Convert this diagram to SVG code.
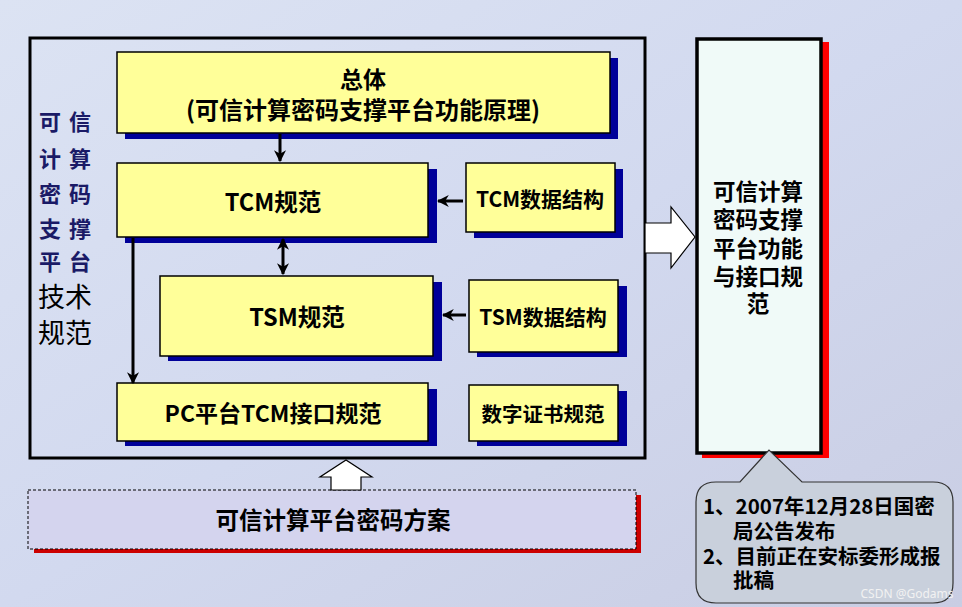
<svg xmlns="http://www.w3.org/2000/svg" width="962" height="607" viewBox="0 0 962 607">
<defs>
<linearGradient id="bg" x1="0" y1="0" x2="1" y2="1">
<stop offset="0" stop-color="#dce3f3"/>
<stop offset="0.5" stop-color="#d2d9ef"/>
<stop offset="1" stop-color="#c9cde3"/>
</linearGradient>
<marker id="ah" viewBox="0 0 10 10" refX="9" refY="5" markerWidth="4" markerHeight="4" orient="auto-start-reverse" markerUnits="strokeWidth">
<path d="M0,0 L10,5 L0,10 L3,5 Z" fill="#000"/>
</marker>
<style>
.t{font-family:"Noto Sans CJK SC","Noto Sans",sans-serif;font-weight:bold;fill:#000;text-anchor:middle;dominant-baseline:central}
.yb{fill:#ffff99;stroke:#000;stroke-width:1.5}
.sh{fill:#000099}
.ln{stroke:#000;stroke-width:3;fill:none}
.vt{font-family:"Noto Sans CJK SC",sans-serif;font-weight:bold;fill:#1a1a66;font-size:22px;text-anchor:middle;dominant-baseline:central}
.vt2{font-family:"Noto Sans CJK SC",sans-serif;font-weight:normal;fill:#000;font-size:27px;text-anchor:middle;dominant-baseline:central}
.hol{fill:#fff;stroke:#000;stroke-width:1.2}
</style>
</defs>
<rect x="0" y="0" width="962" height="607" fill="url(#bg)"/>

<g id="outer">
<rect x="30" y="38" width="615" height="420" fill="none" stroke="#000" stroke-width="3"/>
</g>

<g id="sidetitle">
<text class="vt" x="50" y="120">可</text><text class="vt" x="80" y="120">信</text>
<text class="vt" x="50" y="157">计</text><text class="vt" x="80" y="157">算</text>
<text class="vt" x="50" y="192">密</text><text class="vt" x="80" y="192">码</text>
<text class="vt" x="50" y="227">支</text><text class="vt" x="80" y="227">撑</text>
<text class="vt" x="50" y="260">平</text><text class="vt" x="80" y="260">台</text>
<text class="vt2" x="65" y="295">技术</text>
<text class="vt2" x="65" y="331">规范</text>
</g>

<g id="zongti">
<rect class="sh" x="125" y="58" width="493" height="81"/>
<rect class="yb" x="117" y="52" width="493" height="81"/>
<text class="t" x="363" y="78" font-size="23">总体</text>
<text class="t" x="363" y="108" font-size="24">(可信计算密码支撑平台功能原理)</text>
</g>

<g id="tcm">
<rect class="sh" x="125" y="169" width="312" height="74"/>
<rect class="yb" x="117" y="163" width="311" height="74"/>
<text class="t" x="273" y="201" font-size="23.5">TCM规范</text>
</g>

<g id="tcmdata">
<rect class="sh" x="474" y="169" width="149" height="69"/>
<rect class="yb" x="466" y="163" width="149" height="69"/>
<text class="t" x="540" y="198" font-size="21">TCM数据结构</text>
</g>

<g id="tsm">
<rect class="sh" x="168" y="282" width="274" height="79"/>
<rect class="yb" x="160" y="276" width="273" height="80"/>
<text class="t" x="297" y="316" font-size="23.5">TSM规范</text>
</g>

<g id="tsmdata">
<rect class="sh" x="477" y="286" width="150" height="71"/>
<rect class="yb" x="469" y="280" width="149" height="72"/>
<text class="t" x="543" y="316" font-size="21">TSM数据结构</text>
</g>

<g id="pc">
<rect class="sh" x="125" y="389" width="312" height="57"/>
<rect class="yb" x="117" y="383" width="311" height="58"/>
<text class="t" x="273" y="412" font-size="23">PC平台TCM接口规范</text>
</g>

<g id="cert">
<rect class="sh" x="477" y="391" width="150" height="55"/>
<rect class="yb" x="469" y="385" width="149" height="56"/>
<text class="t" x="543" y="413" font-size="20.5">数字证书规范</text>
</g>

<g id="rightbox">
<rect x="702" y="42" width="127" height="416" fill="#ff0000"/>
<rect x="697" y="39" width="124" height="414" fill="#f0faf8" stroke="#000" stroke-width="3.5"/>
<text class="t" x="758" y="190" font-size="22.5">可信计算</text>
<text class="t" x="758" y="218" font-size="22.5">密码支撑</text>
<text class="t" x="758" y="247" font-size="22.5">平台功能</text>
<text class="t" x="758" y="275" font-size="22.5">与接口规</text>
<text class="t" x="758" y="302" font-size="22.5">范</text>
</g>

<g id="scheme">
<rect x="34" y="495" width="607" height="58" fill="#cc0000"/>
<rect x="28" y="490" width="608" height="59" fill="#d4d4ee" stroke="#000" stroke-width="1" stroke-dasharray="3,2"/>
<text class="t" x="333" y="519" font-size="23.5">可信计算平台密码方案</text>
</g>

<g id="note">
<path d="M716,482 L740,482 L769,450 L802,482 L933,482 Q953,482 953,502 L953,583 Q953,603 933,603 L716,603 Q696,603 696,583 L696,502 Q696,482 716,482 Z" fill="#c9d0dc" stroke="#333" stroke-width="1.2"/>
<text font-family="Noto Sans CJK SC,sans-serif" font-weight="bold" font-size="20.5" dominant-baseline="central">
<tspan x="703" y="505">1、2007年12月28日国密</tspan>
<tspan x="733" y="530">局公告发布</tspan>
<tspan x="703" y="555">2、目前正在安标委形成报</tspan>
<tspan x="733" y="579">批稿</tspan>
</text>
<text x="907" y="593" font-family="Noto Sans,sans-serif" font-size="12" fill="#f2f2f2" text-anchor="middle" dominant-baseline="central">CSDN @Godams</text>
</g>

<g id="connectors">
<line class="ln" x1="280" y1="134" x2="280" y2="161" marker-end="url(#ah)"/>
<line class="ln" x1="283" y1="239" x2="283" y2="274" marker-start="url(#ah)" marker-end="url(#ah)"/>
<line class="ln" x1="133" y1="238" x2="133" y2="383" marker-end="url(#ah)"/>
<line class="ln" x1="463" y1="201" x2="438" y2="201" marker-end="url(#ah)"/>
<line class="ln" x1="466" y1="315" x2="443" y2="315" marker-end="url(#ah)"/>
<path class="hol" d="M645,223 L671,223 L671,207 L695,237 L671,268 L671,253 L645,253 Z"/>
<path class="hol" d="M331,490 L331,477 L320,477 L346,460 L372,477 L361,477 L361,490 Z"/>
</g>
</svg>
